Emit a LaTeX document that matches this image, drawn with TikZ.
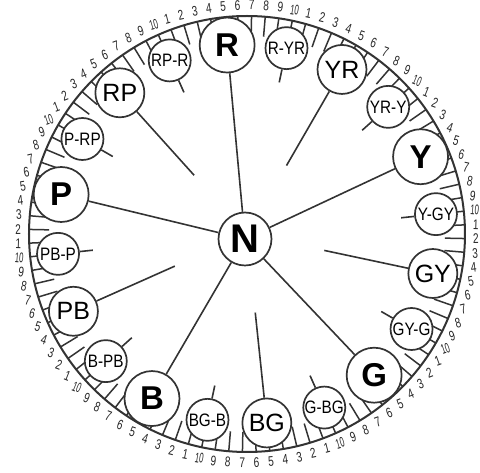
\documentclass[tikz,border=0pt]{standalone}
\usepackage{fontspec}
\setmainfont{Liberation Sans}
\usetikzlibrary{calc}

\tikzset{
  hue/.style={circle, draw=black!80, line width=1.7pt, fill=white, inner sep=0pt},
  prim/.style={hue, minimum size=55pt, font=\fontsize{33}{33}\selectfont\bfseries},
  sec/.style={hue, minimum size=49pt, font=\fontsize{25}{25}\selectfont},
  inter/.style={hue, minimum size=42pt, font=\fontsize{18}{18}\selectfont},
  link/.style={draw=black!80, line width=1.6pt},
  tick/.style={draw=black!80, line width=1.5pt},
  num/.style={inner sep=0pt, text=black!85, font=\fontsize{14}{14}\selectfont},
}
% narrow digits, 10 narrower still
\newcommand{\stepno}[1]{\ifnum#1=10 \scalebox{0.55}[1]{#1}\else\scalebox{0.72}[1]{#1}\fi}

\begin{document}
\begin{tikzpicture}[x=1pt, y=1pt]
  \useasboundingbox (-247,-239) rectangle (233,234);
  % Rim
  \draw[link, line width=2pt] (0,0) circle (218);
  \foreach \i in {0,...,99} {
    \pgfmathsetmacro\a{110.4-3.6*\i}
    \draw[tick] (\a:218) -- (\a:198);
  }
  % Steps 1..10 of each hue
  \foreach \i in {0,...,99} {
    \pgfmathsetmacro\a{110.4-3.6*\i}
    \pgfmathtruncatemacro\k{mod(\i,10)+1}
    \pgfmathsetmacro\r{-22*sin(2*\a)}
    \node[num, rotate=\r] (n\i) at (\a:229) {\stepno{\k}};
  }
  % Neutral
  \node[hue, minimum size=53pt, font=\fontsize{40}{40}\selectfont\bfseries] (N) at (-2,-5) {N};
  % Principal hues, joined to N
  \foreach \nm/\ang in {R/96, Y/24, G/-48, B/-120, P/168} {
    \node[prim] (\nm) at (\ang:190) {\nm};
    \draw[link] (\nm) -- (N);
  }
  % Intermediate hues
  \foreach \nm/\ang in {YR/60, GY/-12, BG/-84, PB/-156, RP/132} {
    \node[sec] (\nm) at (\ang:190) {\nm};
    \coordinate (e\nm) at (\ang:79);
    \draw[link] (\nm) -- (e\nm);
  }
  % In-between hues
  \foreach \nm/\txt/\ang in {RYR/R-YR/78, YRY/YR-Y/42, YGY/Y-GY/6, GYG/GY-G/-30,
      GBG/G-BG/-66, BGB/BG-B/-102, BPB/B-PB/-138, PBP/PB-P/-174,
      PRP/P-RP/150, RPR/RP-R/114} {
    \node[inter] (\nm) at (\ang:190) {\scalebox{0.85}[1]{\txt}};
    \coordinate (e\nm) at (\ang:155);
    \draw[link] (\nm) -- (e\nm);
  }
\end{tikzpicture}
\end{document}
